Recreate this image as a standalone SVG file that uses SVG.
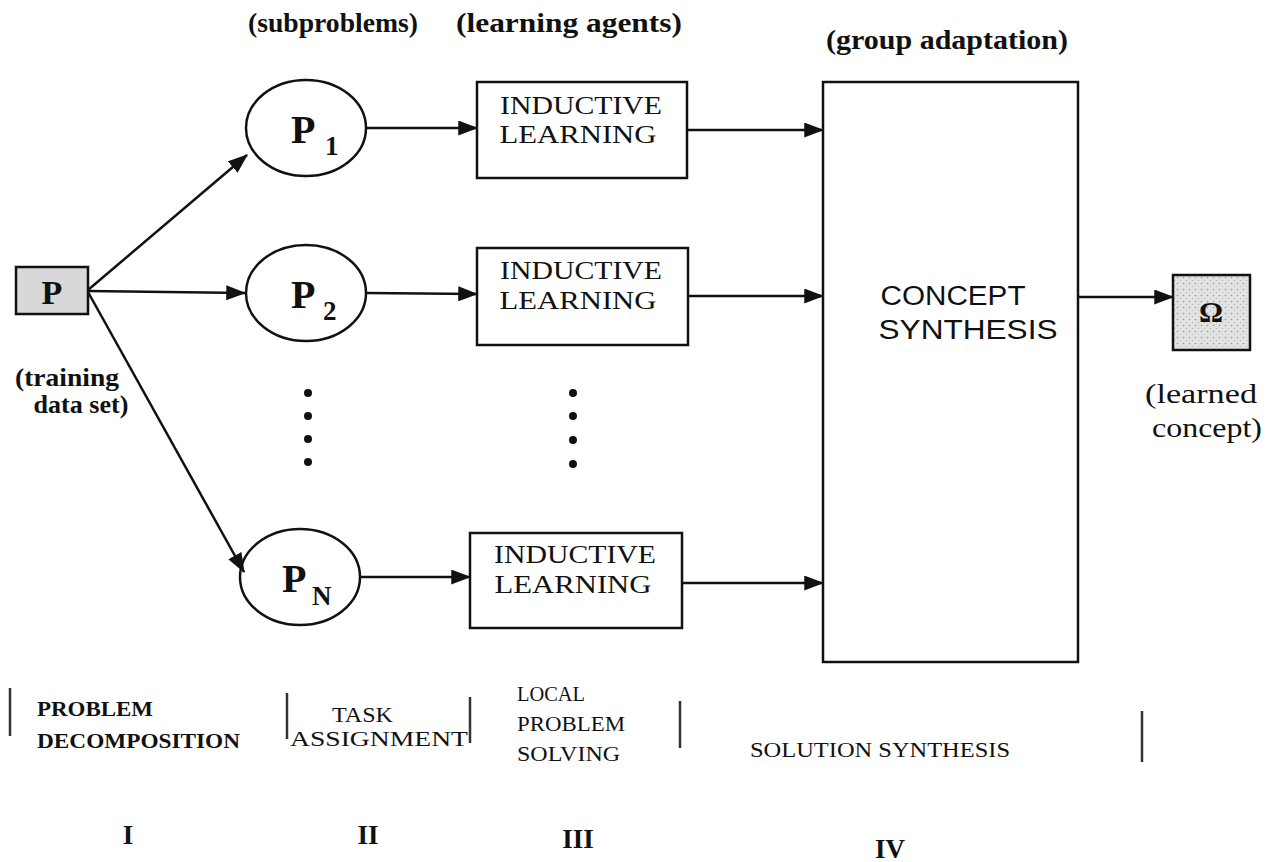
<svg xmlns="http://www.w3.org/2000/svg" width="1269" height="862" viewBox="0 0 1269 862">
<defs>
<marker id="ah" markerWidth="8" markerHeight="6" refX="7.5" refY="3" orient="auto" markerUnits="strokeWidth">
<path d="M0,0 L8,3 L0,6 Z" fill="#111"/>
</marker>
<pattern id="dots" width="6" height="6" patternUnits="userSpaceOnUse">
<rect width="6" height="6" fill="#e2e2e2"/>
<circle cx="1.5" cy="1.5" r="0.8" fill="#999"/>
<circle cx="4.5" cy="4.5" r="0.6" fill="#aaa"/>
</pattern>
</defs>
<style>
.serif{font-family:"Liberation Serif","DejaVu Serif",serif;fill:#111}
.sans{font-family:"Liberation Sans","DejaVu Sans",sans-serif;fill:#111}
.node{fill:#fff;stroke:#111;stroke-width:2.5}
.conn line{stroke:#111;stroke-width:2.5;marker-end:url(#ah)}
.bar{stroke:#333;stroke-width:2.5}
.lbl{font-size:28px}
.box{font-size:25px}
.pl{font-size:40px;font-weight:bold}
.sub{font-size:27px;font-weight:bold}
.ph{font-size:22px}
.rn{font-size:27px;font-weight:bold}
.dot{fill:#111}
</style>
<rect width="1269" height="862" fill="#fff"/>

<text class="serif lbl" x="333" y="32" text-anchor="middle" font-weight="bold" textLength="170" lengthAdjust="spacingAndGlyphs">(subproblems)</text>
<text class="serif lbl" x="569" y="32" text-anchor="middle" font-weight="bold" textLength="226" lengthAdjust="spacingAndGlyphs">(learning agents)</text>
<text class="serif lbl" x="947" y="49" text-anchor="middle" font-weight="bold" textLength="242" lengthAdjust="spacingAndGlyphs">(group adaptation)</text>

<g id="nodeP">
<rect x="16" y="267" width="72" height="47" fill="#d8d8d8" stroke="#111" stroke-width="2.5"/>
<text class="serif" x="52" y="304" text-anchor="middle" font-size="34" font-weight="bold">P</text>
<text class="serif" x="67" y="386" text-anchor="middle" font-size="26" font-weight="bold" fill="#444" textLength="104" lengthAdjust="spacingAndGlyphs">(training</text>
<text class="serif" x="81" y="413" text-anchor="middle" font-size="26" font-weight="bold" fill="#444" textLength="95" lengthAdjust="spacingAndGlyphs">data set)</text>
</g>

<g id="nodeP1">
<ellipse class="node" cx="306" cy="128" rx="60" ry="48"/>
<text class="serif pl" x="291" y="143">P</text>
<text class="serif sub" x="325" y="155">1</text>
</g>
<g id="nodeP2">
<ellipse class="node" cx="306" cy="293" rx="60" ry="48"/>
<text class="serif pl" x="291" y="308">P</text>
<text class="serif sub" x="323" y="320">2</text>
</g>
<g id="nodePN">
<ellipse class="node" cx="300" cy="577" rx="60" ry="48"/>
<text class="serif pl" x="282" y="592">P</text>
<text class="serif sub" x="312" y="605">N</text>
</g>

<g id="dots1">
<circle class="dot" cx="308" cy="393" r="4"/>
<circle class="dot" cx="308" cy="416" r="4"/>
<circle class="dot" cx="308" cy="439" r="4"/>
<circle class="dot" cx="308" cy="462" r="4"/>
</g>
<g id="dots2">
<circle class="dot" cx="573" cy="393" r="4"/>
<circle class="dot" cx="573" cy="416" r="4"/>
<circle class="dot" cx="573" cy="440" r="4"/>
<circle class="dot" cx="573" cy="464" r="4"/>
</g>

<g id="learn1">
<rect class="node" x="477" y="82" width="210" height="96"/>
<text class="serif box" x="581" y="114" text-anchor="middle" textLength="162" lengthAdjust="spacingAndGlyphs">INDUCTIVE</text>
<text class="serif box" x="578" y="143" text-anchor="middle" textLength="157" lengthAdjust="spacingAndGlyphs">LEARNING</text>
</g>
<g id="learn2">
<rect class="node" x="477" y="248" width="211" height="97"/>
<text class="serif box" x="581" y="279" text-anchor="middle" textLength="162" lengthAdjust="spacingAndGlyphs">INDUCTIVE</text>
<text class="serif box" x="578" y="309" text-anchor="middle" textLength="157" lengthAdjust="spacingAndGlyphs">LEARNING</text>
</g>
<g id="learn3">
<rect class="node" x="470" y="533" width="212" height="95"/>
<text class="serif box" x="575" y="563" text-anchor="middle" textLength="162" lengthAdjust="spacingAndGlyphs">INDUCTIVE</text>
<text class="serif box" x="573" y="593" text-anchor="middle" textLength="157" lengthAdjust="spacingAndGlyphs">LEARNING</text>
</g>

<g id="concept">
<rect class="node" x="823" y="82" width="255" height="580"/>
<text class="sans" x="953" y="305" text-anchor="middle" font-size="27" textLength="145" lengthAdjust="spacingAndGlyphs">CONCEPT</text>
<text class="sans" x="968" y="339" text-anchor="middle" font-size="27" textLength="179" lengthAdjust="spacingAndGlyphs">SYNTHESIS</text>
</g>

<g id="omega">
<rect x="1173" y="275" width="77" height="75" fill="url(#dots)" stroke="#111" stroke-width="2.5"/>
<text class="serif" x="1211" y="322" text-anchor="middle" font-size="30" font-weight="bold">Ω</text>
<text class="serif" x="1201" y="403" text-anchor="middle" font-size="28" textLength="112" lengthAdjust="spacingAndGlyphs">(learned</text>
<text class="serif" x="1207" y="437" text-anchor="middle" font-size="28" textLength="110" lengthAdjust="spacingAndGlyphs">concept)</text>
</g>

<g class="conn" id="connectors">
<line x1="88" y1="290" x2="247" y2="155"/>
<line x1="88" y1="291" x2="245" y2="293"/>
<line x1="88" y1="292" x2="244" y2="572"/>
<line x1="366" y1="128" x2="477" y2="128"/>
<line x1="366" y1="293" x2="477" y2="294"/>
<line x1="360" y1="577" x2="470" y2="577"/>
<line x1="687" y1="130" x2="823" y2="130"/>
<line x1="688" y1="296" x2="823" y2="296"/>
<line x1="682" y1="583" x2="823" y2="583"/>
<line x1="1078" y1="297" x2="1173" y2="297"/>
</g>

<g id="phases">
<line class="bar" x1="10" y1="688" x2="10" y2="736" stroke="#888"/>
<line class="bar" x1="287" y1="693" x2="287" y2="739"/>
<line class="bar" x1="470" y1="697" x2="470" y2="743"/>
<line class="bar" x1="680" y1="701" x2="680" y2="748"/>
<line class="bar" x1="1142" y1="711" x2="1142" y2="762"/>
<text class="serif ph" x="37" y="716" font-weight="bold" fill="#555" textLength="116" lengthAdjust="spacingAndGlyphs">PROBLEM</text>
<text class="serif ph" x="37" y="748" font-weight="bold" fill="#555" textLength="203" lengthAdjust="spacingAndGlyphs">DECOMPOSITION</text>
<text class="serif ph" x="332" y="722" textLength="61" lengthAdjust="spacingAndGlyphs">TASK</text>
<text class="serif ph" x="290" y="746" textLength="178" lengthAdjust="spacingAndGlyphs">ASSIGNMENT</text>
<text class="serif ph" x="517" y="701" textLength="68" lengthAdjust="spacingAndGlyphs">LOCAL</text>
<text class="serif ph" x="517" y="731" textLength="108" lengthAdjust="spacingAndGlyphs">PROBLEM</text>
<text class="serif ph" x="517" y="761" textLength="103" lengthAdjust="spacingAndGlyphs">SOLVING</text>
<text class="serif ph" x="750" y="757" textLength="260" lengthAdjust="spacingAndGlyphs">SOLUTION SYNTHESIS</text>
<text class="serif rn" x="128" y="844" text-anchor="middle">I</text>
<text class="serif rn" x="368" y="844" text-anchor="middle">II</text>
<text class="serif rn" x="578" y="848" text-anchor="middle">III</text>
<text class="serif rn" x="890" y="858" text-anchor="middle">IV</text>
</g>
</svg>
